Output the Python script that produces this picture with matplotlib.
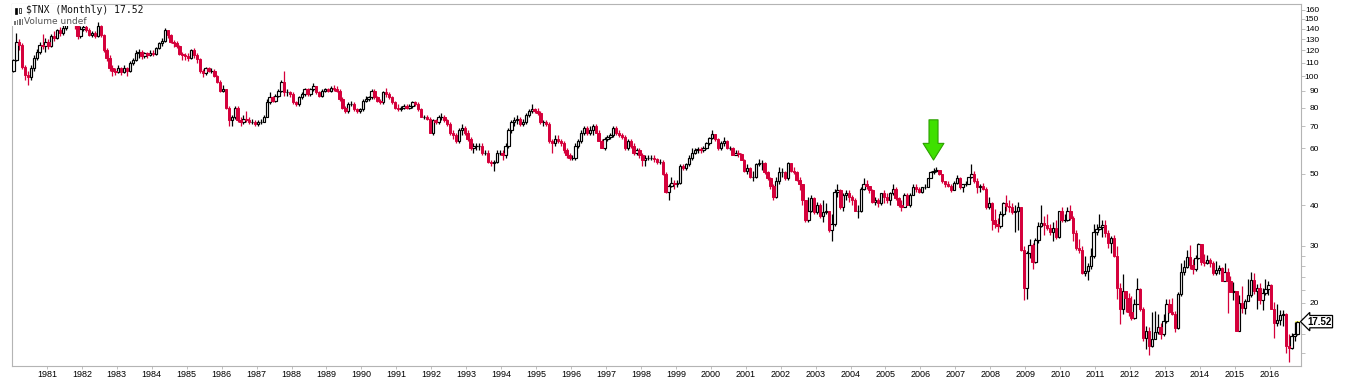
#script plot.py

import numpy as np
from matplotlib import pyplot as plt
from matplotlib.patches import Rectangle
from matplotlib.ticker import FixedLocator, NullFormatter

plt.rcParams['font.family'] = ['Liberation Sans', 'DejaVu Sans']

#============================================================================
# Dados: candles mensais do $TNX, jan/1980 a out/2016
#============================================================================
ticker_label = '$TNX (Monthly) 17.52'
volume_label = 'Volume undef'
first_year = 1980
first_open = 104
last_price = 17.52
arrow_year, arrow_month = 2006, 5

close = [
    112, 127, 125, 107, 101, 99, 106, 114, 119, 125, 124, 127,            # 1980
    124, 133, 131, 139, 136, 141, 148, 155, 151, 146, 133, 140,           # 1981
    142, 139, 134, 136, 133, 143, 134, 120, 114, 106, 104, 103,           # 1982
    106, 103, 106, 104, 110, 112, 118, 119, 115, 118, 116, 118,           # 1983
    117, 122, 126, 128, 139, 134, 127, 126, 124, 117, 116, 115,           # 1984
    114, 120, 116, 113, 104, 102, 106, 104, 104, 100, 96, 90,             # 1985
    91, 80, 73, 75, 80, 73, 72, 74, 73, 72, 72, 71,                       # 1986
    72, 72, 75, 83, 86, 84, 87, 90, 96, 89, 89, 88,                       # 1987
    83, 82, 86, 88, 91, 88, 91, 93, 89, 87, 90, 91,                       # 1988
    90, 92, 91, 90, 85, 80, 78, 82, 82, 79, 78, 79,                       # 1989
    84, 85, 86, 90, 86, 84, 83, 89, 88, 86, 83, 80,                       # 1990
    79, 80, 81, 80, 81, 83, 82, 79, 75, 75, 74, 67,                       # 1991
    73, 72, 75, 75, 73, 71, 67, 66, 63, 68, 69, 67,                       # 1992
    64, 60, 61, 61, 61, 58, 58, 54.5, 54, 54.5, 58, 58,                   # 1993
    57, 61, 68, 72, 73, 74, 71, 72, 76, 78, 79, 78,                       # 1994
    77, 72, 72, 71, 63, 62, 64, 63, 62, 59, 57, 56,                       # 1995
    56, 61, 63, 67, 69, 67, 68, 70, 67, 63, 60, 64,                       # 1996
    65, 66, 69, 67, 66, 65, 60, 63, 61, 58, 59, 57,                       # 1997
    55, 56, 56, 56, 55.5, 54.5, 54.5, 50, 44, 46, 47, 46.5,               # 1998
    47, 53, 52, 53.5, 56, 58, 59, 59.5, 59, 60, 62, 64.5,                 # 1999
    66.5, 64, 60, 62, 63, 60, 60, 57, 58, 57.5, 55, 51,                   # 2000
    52, 49, 49, 53.5, 54, 54, 50.5, 48.5, 46, 42.5, 47.5, 50.5,           # 2001
    50.5, 48.5, 54, 51, 50.5, 48, 46.5, 41.5, 36, 38.5, 42, 38,           # 2002
    40, 37, 38, 38.5, 33.5, 35, 44, 44.5, 39.5, 43, 43.5, 42.5,           # 2003
    41.5, 38.5, 38.5, 45, 46.5, 46, 44.5, 41, 41.5, 40.5, 43.5, 42.5,     # 2004
    41.5, 43.5, 45, 42, 40, 39.5, 43, 40, 43, 45.5, 45, 44,               # 2005
    45.5, 45.5, 48.5, 50.5, 51, 51.5, 50, 47.5, 46.5, 46, 44.5, 47,       # 2006
    48.5, 45.5, 46.5, 46.5, 49, 50, 47.5, 45.5, 46, 45, 39.5, 40.5,       # 2007
    36, 35, 34.5, 37.5, 40.5, 39.8, 39.5, 38.2, 38.5, 39.5, 29.2, 22.2,   # 2008
    28.5, 30.2, 26.7, 31.2, 34.6, 35.3, 34.8, 34.0, 33.1, 34.1, 32.0, 38.4,  # 2009
    36.1, 36.1, 38.3, 36.6, 32.9, 29.5, 29.1, 24.7, 25.1, 26.0, 28.0, 33.0,  # 2010
    33.7, 34.2, 34.7, 32.9, 30.6, 31.6, 28.0, 22.2, 19.2, 21.7, 20.7, 18.8,  # 2011
    18.0, 19.8, 22.1, 19.1, 15.6, 16.4, 14.7, 15.5, 16.3, 16.9, 16.1, 17.6,  # 2012
    19.9, 18.8, 18.5, 16.7, 21.3, 24.9, 25.8, 27.8, 26.1, 25.5, 27.5, 30.3,  # 2013
    26.7, 26.5, 27.2, 26.5, 24.8, 25.3, 25.6, 23.4, 24.9, 23.4, 21.6, 21.7,  # 2014
    16.4, 20.0, 19.3, 20.3, 21.2, 23.5, 21.8, 22.2, 20.4, 21.4, 22.1, 22.7,  # 2015
    19.2, 17.3, 17.7, 18.3, 18.5, 14.7, 14.5, 15.8, 16.0, 17.52,             # 2016
]

high = [
    113, 136, 130, 126, 108, 104, 108, 116, 121, 127, 135, 131,
    130, 135, 138, 140, 142, 147, 150, 158, 160, 156, 147, 143,
    148, 144, 141, 138, 138, 147, 144, 135, 122, 116, 108, 106,
    108, 107, 108, 107, 111, 114, 120, 121, 120, 119, 119, 120,
    120, 123, 127, 131, 141, 139, 135, 129, 128, 125, 119, 118,
    118, 121, 122, 118, 114, 105, 107, 107, 106, 105, 101, 97,
    94, 91, 81, 76, 81, 81, 75, 76, 78, 75, 74, 73,
    73, 74, 76, 85, 89, 87, 88, 91, 97, 104, 91, 90,
    89, 84, 87, 89, 92, 92, 92, 95, 93, 90, 91, 92,
    92, 93, 94, 93, 91, 86, 81, 83, 84, 83, 80, 80,
    85, 87, 87, 91, 91, 87, 85, 90, 92, 89, 87, 84,
    82, 81, 82, 82, 82, 84, 84, 83, 80, 76, 76, 75,
    74, 74, 76, 77, 76, 74, 72, 68, 67, 69, 71, 70,
    68, 65, 62, 62, 62, 62, 59, 59, 55, 55, 59, 59,
    59, 62, 69, 73, 75, 76, 75, 74, 77, 79, 82, 80,
    80, 78, 73, 73, 72, 64, 66, 66, 64, 63, 60, 58,
    57, 62, 64, 68, 70, 70, 70, 71, 71, 68, 64, 65,
    66, 67, 70, 70, 68, 67, 66, 64, 64, 62, 60, 60,
    58, 57, 57, 57, 57, 56, 55.5, 55, 50.5, 46.5, 49, 48,
    48, 53.5, 53.5, 54, 57, 60, 60, 60.5, 60.5, 61, 62.5, 65,
    68, 66.5, 64.5, 63, 65, 63.5, 61, 60.5, 59, 59, 58, 55.5,
    53.5, 52.5, 51, 54, 55.5, 55, 54.5, 51, 49, 46.5, 49, 52.5,
    52, 51, 54.5, 54, 52.5, 51, 49, 46.5, 41.5, 42.5, 43, 42.5,
    41, 40.5, 41.5, 40.5, 38.5, 37.5, 45, 46.5, 45, 43.5, 44.5, 44.5,
    43, 42, 40, 45.5, 48.5, 48, 46, 45, 42.5, 42, 43.5, 44.5,
    43.5, 44, 46.5, 45.5, 42.5, 41.5, 43.5, 43.5, 43.5, 46.5, 46.5, 45.5,
    45.5, 46.5, 48.5, 51, 52, 52.5, 51.5, 50, 47.5, 47.5, 46.5, 47.5,
    49.5, 49, 46.5, 47.5, 49, 53.5, 51, 48.5, 46.5, 47, 45.5, 42.5,
    41, 39, 36.5, 38.5, 41, 43, 41.5, 40.5, 40, 41, 39.5, 30,
    29, 31.5, 30.5, 31.8, 35.5, 40, 37, 37.5, 35, 35.5, 36, 38.5,
    39.5, 37.5, 39.5, 40, 37, 33.5, 31.5, 30, 28, 26.5, 29.5, 35,
    35, 37.5, 36, 36, 33.5, 32.2, 32.5, 30, 23, 24.5, 21.8, 21.5,
    21, 20.5, 23.9, 22.3, 19.4, 17, 16.9, 18.7, 18.9, 18.5, 17.3, 18.5,
    20.5, 20.6, 20.7, 18.9, 21.6, 26.6, 27.2, 29.2, 30.1, 27.4, 28.2, 30.5,
    30.3, 28.3, 28.1, 27.6, 26.9, 27.0, 26.2, 25.9, 26.5, 25.6, 24.3, 23.2,
    21.8, 21.1, 22.5, 20.6, 23.7, 24.9, 24.8, 22.9, 23.1, 22.2, 23.7, 23.4,
    22.9, 20.1, 19.9, 19.0, 19.0, 18.6, 16.0, 16.2, 17.5, 17.6,
]

low = [
    103, 111, 120, 105, 97, 94, 97, 104, 112, 117, 121, 119,
    121, 123, 128, 130, 133, 134, 139, 146, 148, 140, 130, 131,
    138, 137, 133, 132, 131, 132, 132, 119, 111, 104, 100, 101,
    102, 101, 102, 100, 103, 108, 111, 114, 113, 114, 114, 115,
    115, 116, 121, 124, 127, 131, 126, 123, 122, 116, 112, 112,
    111, 113, 114, 110, 102, 99, 101, 103, 102, 99, 95, 89,
    89, 79, 70, 70, 74, 72, 70, 71, 72, 71, 71, 70,
    70, 71, 72, 75, 82, 83, 83, 86, 89, 87, 87, 86,
    82, 81, 81, 85, 87, 87, 87, 90, 88, 86, 86, 89,
    89, 89, 90, 89, 84, 79, 77, 77, 81, 78, 77, 77,
    78, 83, 84, 85, 85, 83, 82, 82, 86, 85, 82, 79,
    78, 78, 79, 79, 79, 80, 81, 78, 75, 74, 73, 67,
    66, 71, 71, 73, 72, 70, 66, 64, 62, 62, 66, 66,
    63, 59, 58, 59, 59, 57, 57, 54, 53, 51, 54, 57,
    55, 56, 60, 67, 70, 71, 70, 70, 71, 75, 77, 77,
    76, 71, 70, 70, 62, 58, 61, 62, 61, 58, 56, 55,
    55, 55, 60, 62, 66, 66, 66, 66, 67, 63, 60, 59,
    63, 64, 65, 66, 65, 64, 59, 59, 60, 57, 57, 56,
    53, 53, 55, 55, 54.5, 53.5, 53.5, 49.5, 43.5, 41.6, 45.5, 45,
    45.5, 46.5, 51.5, 51.5, 53, 55, 57.5, 58, 58, 58.5, 59.5, 61.5,
    64, 63, 59, 59, 61, 59.5, 59, 57, 57, 56.5, 55, 50.5,
    50, 48.5, 47.5, 48.5, 53, 51.5, 50, 48, 45, 41.5, 42, 46.5,
    49, 48, 48, 50.5, 50, 47.5, 44.5, 40, 35.5, 35.5, 38, 37.5,
    37.5, 36.5, 35.5, 37.5, 33, 31, 34.5, 42.5, 39, 38.5, 41.5, 41,
    40, 38.5, 36.5, 38, 44.5, 45, 43.5, 40.5, 40, 39.5, 40, 40.5,
    40.5, 40, 43, 41.5, 39.5, 38.5, 39.5, 40, 39.5, 43, 44, 43.5,
    43.5, 45, 45.5, 48.5, 50, 50.5, 49.5, 47, 45.5, 45.5, 44, 44.5,
    46.5, 45, 44, 46, 46.5, 48.5, 47, 43.5, 44, 44.5, 39, 39,
    33.5, 34, 33, 34, 37, 38.5, 38, 37.5, 33, 33.5, 29, 20.4,
    20.5, 27.5, 25.5, 26.5, 30.5, 34.3, 32.5, 33.5, 32.5, 31, 31.5, 31.8,
    35.5, 35.5, 35.8, 36, 31, 29.2, 28.5, 24.5, 24.2, 23.5, 25.5, 27.5,
    32.5, 33.5, 32, 32, 29.5, 28.5, 27.8, 20.5, 17.2, 18.5, 18.8, 18.2,
    17.7, 17.9, 19.8, 18.9, 15.3, 14.4, 13.8, 14.6, 15.6, 16, 15.5, 15.8,
    17.4, 18.6, 18.3, 16.3, 16.6, 21.0, 24.4, 25.7, 25.5, 24.6, 25.1, 27.4,
    26.2, 26.0, 26.3, 25.8, 24.4, 24.4, 24.5, 23.3, 23.3, 18.6, 21.6, 20.4,
    16.4, 16.5, 18.6, 18.5, 20.3, 20.9, 21.3, 19.1, 19.9, 19.0, 21.1, 21.1,
    19.2, 15.6, 17.0, 17.1, 17.0, 14.0, 13.2, 14.4, 15.3, 15.9,
]

year_ticks = list(range(1981, 2017))
price_ticks = [20, 30, 40, 50, 60, 70, 80, 90, 100, 110, 120, 130, 140, 150, 160]
minor_ticks = [14, 16, 18, 22, 24, 26, 28]

#============================================================================
# Preparacao
#============================================================================
c = np.array(close, dtype=float)
o = np.r_[first_open, c[:-1]]
h = np.maximum(np.array(high, dtype=float), np.maximum(o, c))
l = np.minimum(np.array(low, dtype=float), np.minimum(o, c))
t = first_year + (np.arange(len(c)) + 0.5) / 12.0
up = c >= o
dn = ~up

RED = '#d5003b'
GRAY = '#b4b4b4'
W, H = 1366, 378
x0, x1, y0, y1 = 12, 1301, 4, 366   # area do grafico em pixels

fig = plt.figure(figsize=(W / 100, H / 100), dpi=100)
ax = fig.add_axes([x0 / W, 1 - y1 / H, (x1 - x0) / W, (y1 - y0) / H])
ax.set_yscale('log')
ax.set_ylim(12.79, 166.7)
ax.set_xlim(1980.0, 2016.893)

# destaque amarelo do ultimo candle
ax.bar(t[-1], h[-1] - l[-1], bottom=l[-1], width=0.13, color='#ffff70', zorder=1.5)

# pavios
ax.vlines(t[up], l[up], h[up], color='black', lw=0.9, zorder=2)
ax.vlines(t[dn], l[dn], h[dn], color=RED, lw=0.9, zorder=2)
# corpos
body = np.abs(c - o)
bot = np.minimum(o, c)
ax.bar(t[up], body[up], bottom=bot[up], width=0.068, facecolor='white',
       edgecolor='black', linewidth=0.85, zorder=3)
ax.bar(t[dn], body[dn], bottom=bot[dn], width=0.068, facecolor=RED,
       edgecolor=RED, linewidth=0.7, zorder=3)

# eixos
for s in ax.spines.values():
    s.set_color(GRAY)
    s.set_linewidth(0.8)

ax.yaxis.tick_right()
ax.set_yticks(price_ticks, [str(v) for v in price_ticks])
ax.yaxis.set_minor_locator(FixedLocator(minor_ticks))
ax.yaxis.set_minor_formatter(NullFormatter())
ax.tick_params(axis='y', which='both', direction='out', length=3, width=0.6,
               color=GRAY, labelsize=6, pad=10)
for lab in ax.get_yticklabels():
    lab.set_horizontalalignment('right')

ax.set_xticks(year_ticks, [str(y) for y in year_ticks])
ax.tick_params(axis='x', direction='out', length=2, width=0.6, color=GRAY,
               labelsize=6.5, pad=0.6)

# legenda (caixa branca por cima dos candles)
def px(xp, yp):
    return (xp - x0) / (x1 - x0), (y1 - yp) / (y1 - y0)

bx, by = px(x0, 26)
ax.add_patch(Rectangle((bx, by), px(90, 0)[0], 1 - by, transform=ax.transAxes,
                       fc='white', ec='none', zorder=5))
# icone candle
for xa, ya, hh, fc in [(15, 14, 6, 'black'), (19, 13, 5, 'white')]:
    ix, iy = px(xa, ya)
    ax.add_patch(Rectangle((ix, iy), 2.2 / (x1 - x0), hh / (y1 - y0),
                           transform=ax.transAxes, fc=fc, ec='black', lw=0.5, zorder=6))
# icone volume
for xa, hh in [(14, 4), (16.5, 5), (19, 6), (21.5, 6)]:
    ix, iy = px(xa, 25)
    ax.add_patch(Rectangle((ix, iy), 1.6 / (x1 - x0), hh / (y1 - y0),
                           transform=ax.transAxes, fc='#777777', ec='none', zorder=6))

tx, ty = px(26, 5)
ax.text(tx, ty, ticker_label, transform=ax.transAxes, ha='left', va='top',
        fontsize=7, family='DejaVu Sans Mono', color='#111111', zorder=7)
tx, ty = px(24, 17)
ax.text(tx, ty, volume_label, transform=ax.transAxes, ha='left', va='top',
        fontsize=6.5, family='DejaVu Sans', color='#555555', zorder=7)

# seta verde sobre o topo de 2006
k = (arrow_year - first_year) * 12 + arrow_month - 1
tip = h[k] * 1.06
ax.annotate('', xy=(t[k], tip), xytext=(t[k], tip * 1.33),
            arrowprops=dict(arrowstyle='simple,head_length=1.2,head_width=1.5,tail_width=0.65',
                            fc='#3fe000', ec='#2ca000', lw=0.8,
                            shrinkA=0, shrinkB=0, mutation_scale=10),
            zorder=8)

# etiqueta do ultimo preco
ax.annotate(f'{last_price:.2f}', xy=(px(1307, 0)[0], last_price),
            xycoords=('axes fraction', 'data'), ha='left', va='center',
            fontsize=7, fontweight='bold', annotation_clip=False,
            bbox=dict(boxstyle='larrow,pad=0.12', fc='white', ec='black', lw=0.9))

fig.savefig('out.png', dpi=100)
